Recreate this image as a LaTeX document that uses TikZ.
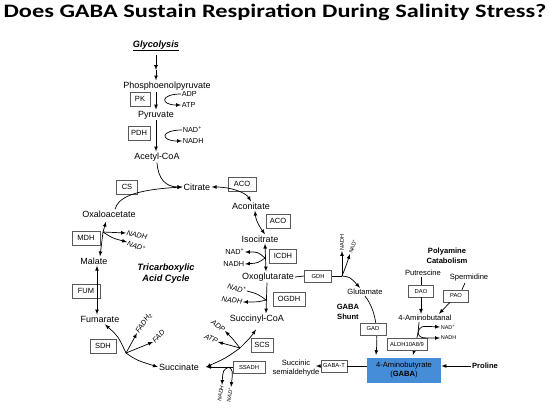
\documentclass[tikz,border=0pt]{standalone}
\usepackage{fontspec}
\setmainfont{Liberation Sans}
\newfontfamily\titlefont{Carlito}
\usetikzlibrary{arrows,positioning,calc}
\definecolor{gababl}{RGB}{70,141,216}

\begin{document}
\begin{tikzpicture}[x=1pt,y=1pt,>=latex,line width=0.7pt,
    met/.style={font=\fontsize{9}{10}\selectfont, inner sep=1pt},
    mid/.style={font=\fontsize{7.6}{8.6}\selectfont, inner sep=1pt, align=center},
    cof/.style={font=\fontsize{7.3}{8}\selectfont, inner sep=0.5pt},
    cofi/.style={font=\fontsize{7.3}{8}\selectfont\itshape, inner sep=0.5pt},
    tiny/.style={font=\fontsize{5.5}{6}\selectfont, inner sep=0.5pt},
    tinyi/.style={font=\fontsize{5.5}{6}\selectfont\itshape, inner sep=0.5pt},
    hdr/.style={font=\fontsize{7.6}{9.5}\selectfont\bfseries, align=center, inner sep=1pt},
    enz/.style={draw=black!65, line width=0.6pt, fill=white, rectangle, font=\fontsize{7.5}{8}\selectfont, minimum height=14pt, inner sep=1pt},
    senz/.style={enz, font=\fontsize{5.8}{6.5}\selectfont, minimum height=12pt}]
    \useasboundingbox (0,0) rectangle (550,-418);

    \node[font=\titlefont\fontsize{19}{22}\selectfont\bfseries, anchor=base, xscale=1.28, transform shape] (title) at (275,-17) {Does GABA Sustain Respiration During Salinity Stress?};

    \node[font=\fontsize{9.2}{10}\selectfont\bfseries\itshape] (glyc) at (156,-46) {\underline{Glycolysis}};
    \coordinate (g1) at (156,-70);
    \node[met] (pep) at (167,-86) {Phosphoenolpyruvate};
    \draw[->] (glyc) -- (g1);
    \draw[->] (g1) -- (g1 |- pep.north);

    \node[enz, minimum width=20pt] (pk) at (140,-99) {PK};
    \node[cof, anchor=west] (adp) at (181,-94) {ADP};
    \node[cof, anchor=west] (atp) at (181,-105) {ATP};
    \node[met] (pyr) at (156,-115) {Pyruvate};
    \draw[->] (pyr |- pep.south) -- (pyr.north);
    \draw[->] (adp.west) .. controls (160,-94) and (160,-105) .. (atp.west);

    \node[enz, minimum width=22pt] (pdh) at (139,-133) {PDH};
    \node[cof, anchor=west] (nad1) at (182,-130) {NAD\textsuperscript{+}};
    \node[cof, anchor=west] (nadh1) at (182,-141) {NADH};
    \node[met] (acoa) at (157,-157) {Acetyl-CoA};
    \draw[->] (pyr.south) -- (pyr.south |- acoa.north);
    \draw[->] (nad1.west) .. controls (160,-130) and (160,-141) .. (nadh1.west);

    \node[met] (cit) at (197,-187) {Citrate};
    \draw[->] (acoa.south) .. controls (158,-178) and (165,-187) .. (cit.west);
    \node[enz, minimum width=21pt] (cs) at (127,-187) {CS};
    \node[met] (oaa) at (109,-214) {Oxaloacetate};
    \draw[->] ($(oaa.north)+(6,0)$) .. controls (118,-198) and (132,-190) .. (cit.west);

    \node[enz, minimum width=28pt] (mdh) at (86,-238) {MDH};
    \node[met] (mal) at (94,-261) {Malate};
    \coordinate (mdhb) at (103,-232);
    \node[cofi, rotate=-12, anchor=west] (nadh2) at (126,-233) {NADH};
    \node[cofi, rotate=-22, anchor=west] (nad2) at (127,-242) {NAD\textsuperscript{+}};
    \draw[->] (mdhb) -- ($(oaa.south)+(-3,-3)$);
    \draw[->] (mdhb) -- ($(mal.north)+(6,0)$);
    \draw[->] (mdhb) -- (nadh2.west);
    \draw[->] (mdhb) .. controls (112,-238) .. (nad2.west);

    \node[font=\fontsize{9.2}{11}\selectfont\bfseries\itshape, align=center] (tca) at (166,-274) {Tricarboxylic\\Acid Cycle};

    \node[enz, minimum width=28pt] (fum) at (86,-291) {FUM};
    \node[met] (fuma) at (100,-319) {Fumarate};
    \draw[<->] ($(mal.south)+(3,0)$) -- ($(fuma.north)+(-3,0)$);

    \node[enz, minimum width=26pt] (sdh) at (103,-346) {SDH};
    \node[met] (suc) at (179,-367) {Succinate};
    \coordinate (sdhb) at (126,-353);
    \draw[<->] ($(fuma.south)+(5,-1)$) .. controls (118,-336) .. (sdhb) .. controls (136,-360) .. (suc.west);
    \node[cofi, rotate=55, anchor=west] (fadh) at (137,-333) {FADH\textsubscript{2}};
    \node[cofi, rotate=45, anchor=west] (fad) at (153,-342) {FAD};
    \draw[->] (sdhb) -- (fadh.west);
    \draw[->] (sdhb) -- (fad.west);

    \node[enz, minimum width=28pt] (aco1) at (242,-184) {ACO};
    \node[met] (acon) at (251,-206) {Aconitate};
    \draw[<->] (cit.east) .. controls (232,-187) and (246,-193) .. (acon.north);

    \node[enz, minimum width=24pt] (aco2) at (278,-221) {ACO};
    \node[met] (isoc) at (260,-239) {Isocitrate};
    \draw[<->] ($(acon.south)+(4,0)$) .. controls (256,-222) and (262,-230) .. ($(isoc.north)+(5,0)$);

    \node[enz, minimum width=27pt] (icdh) at (283,-256) {ICDH};
    \node[met] (oxo) at (268,-277) {Oxoglutarate};
    \draw[<->] ($(isoc.south)+(5,0)$) -- ($(oxo.north)+(-2,0)$);
    \coordinate (icdhb) at (265,-258);
    \node[cof, anchor=east] (nad3) at (245,-252) {NAD\textsuperscript{+}};
    \node[cof, anchor=east] (nadh3) at (245,-264) {NADH};
    \draw[->] (icdhb) .. controls (258,-252) .. (nad3.east);
    \draw[->] (icdhb) .. controls (258,-263) .. (nadh3.east);

    \node[enz, minimum width=32pt] (ogdh) at (289,-299) {OGDH};
    \node[met] (sca) at (257,-319) {Succinyl-CoA};
    \coordinate (ogdhb) at (266,-300);
    \draw[->] ($(oxo.south)+(-1,0)$) -- ($(sca.north)+(9,0)$);
    \node[cofi, rotate=-15, anchor=east] (nad4) at (247,-291) {NAD\textsuperscript{+}};
    \node[cofi, rotate=-8, anchor=east] (nadh4) at (243,-302) {NADH};
    \draw (nad4.east) .. controls (258,-294) .. (ogdhb);
    \draw[->] (ogdhb) .. controls (258,-302) .. (nadh4.east);

    \node[enz, minimum width=22pt] (scs) at (262,-345) {SCS};
    \coordinate (scsb) at (240,-348);
    \draw[<->] ($(sca.south)+(-1,-5)$) .. controls (250,-338) .. (scsb) .. controls (226,-358) .. ($(suc.east)+(6,0)$);
    \node[cofi, rotate=-35, anchor=east] (adp2) at (225,-331) {ADP};
    \node[cofi, rotate=-25, anchor=east] (atp2) at (218,-342) {ATP};
    \draw[->] (scsb) .. controls (232,-338) .. (adp2.east);
    \draw[->] (scsb) -- (atp2.east);

    \node[senz, minimum width=32pt] (ssadh) at (249,-367) {SSADH};
    \node[mid] (ssa) at (296,-368) {Succinic\\semialdehyde};
    \draw[->] (ssadh.west) -- ($(suc.east)+(6,0)$);
    \coordinate (ssb) at (229,-367);
    \node[tinyi, rotate=80, anchor=east] (nadh5) at (222,-385) {NADH};
    \node[tinyi, rotate=80, anchor=east] (nad5) at (231,-387) {NAD\textsuperscript{+}};
    \draw[->] (ssb) .. controls (223,-370) .. (nadh5.east);
    \draw[->] (ssb) .. controls (233,-371) .. (nad5.east);

    \node[fill=gababl, minimum width=74pt, minimum height=25pt, align=center, font=\fontsize{7.6}{9.5}\selectfont] (gaba) at (404,-370) {4-Aminobutyrate\\(\textbf{GABA})};
    \node[senz, minimum width=26pt] (gabat) at (334,-366) {GABA-T};
    \draw (gaba.west |- gabat.east) -- (gabat.east);
    \draw[->] (gabat.west) -- ($(ssa.east)+(-5,2)$);
    \node[hdr] (pro) at (485,-366) {Proline};
    \draw[->] (pro.west) -- (gaba.east |- pro.west);

    \node[hdr] (shunt) at (348,-312) {GABA\\Shunt};
    \node[mid] (glu) at (365,-292) {Glutamate};
    \draw[->] (glu.south) .. controls (376,-310) and (378,-330) .. ($(gaba.north)+(-28,2)$);
    \node[senz, minimum width=26pt] (gad) at (373,-329) {GAD};

    \node[senz, minimum width=27pt] (gdh) at (318,-276) {GDH};
    \coordinate (gdhb) at (342,-276);
    \draw (oxo.east) -- (gdh.west);
    \draw (gdh.east) -- (gdhb);
    \draw[->] (gdhb) .. controls (350,-277) .. ($(glu.north)+(-5,0)$);
    \node[tiny, rotate=90, anchor=west] (nadh6) at (342,-251) {NADH};
    \node[tiny, rotate=70, anchor=west] (nad6) at (350,-254) {NAD\textsuperscript{+}};
    \draw[->] (gdhb) -- (nadh6.west);
    \draw[->] (gdhb) .. controls (346,-266) .. (nad6.west);

    \node[hdr] (poly) at (447,-256) {Polyamine\\Catabolism};
    \node[mid] (put) at (423,-273) {Putrescine};
    \node[mid] (spd) at (469,-278) {Spermidine};
    \node[senz, minimum width=25pt] (dao) at (421,-291) {DAO};
    \node[senz, minimum width=25pt] (pao) at (456,-296) {PAO};
    \node[mid] (abal) at (425,-318) {4-Aminobutanal};
    \draw (put.south -| dao.north) -- (dao.north);
    \draw ($(spd.south)+(-4,0)$) -- ($(pao.north)+(6,0)$);
    \draw[->] (dao.south) -- (dao.south |- abal.north);
    \draw[->] ($(pao.south)+(-6,0)$) -- ($(abal.north)+(14,0)$);

    \coordinate (aldhb) at (418,-333);
    \draw[->] ($(abal.south)+(-6,0)$) -- (aldhb) -- ($(gaba.north)+(9,2)$);
    \node[senz, minimum width=40pt] (aldh) at (407,-344) {ALDH10A8/9};
    \node[tiny, anchor=west] (nad7) at (440,-327) {NAD\textsuperscript{+}};
    \node[tiny, anchor=west] (nadh7) at (440,-338) {NADH};
    \draw[->] (aldhb) .. controls (420,-326) .. (nad7.west);
    \draw[->] (aldhb) .. controls (420,-338) .. (nadh7.west);
\end{tikzpicture}
\end{document}
